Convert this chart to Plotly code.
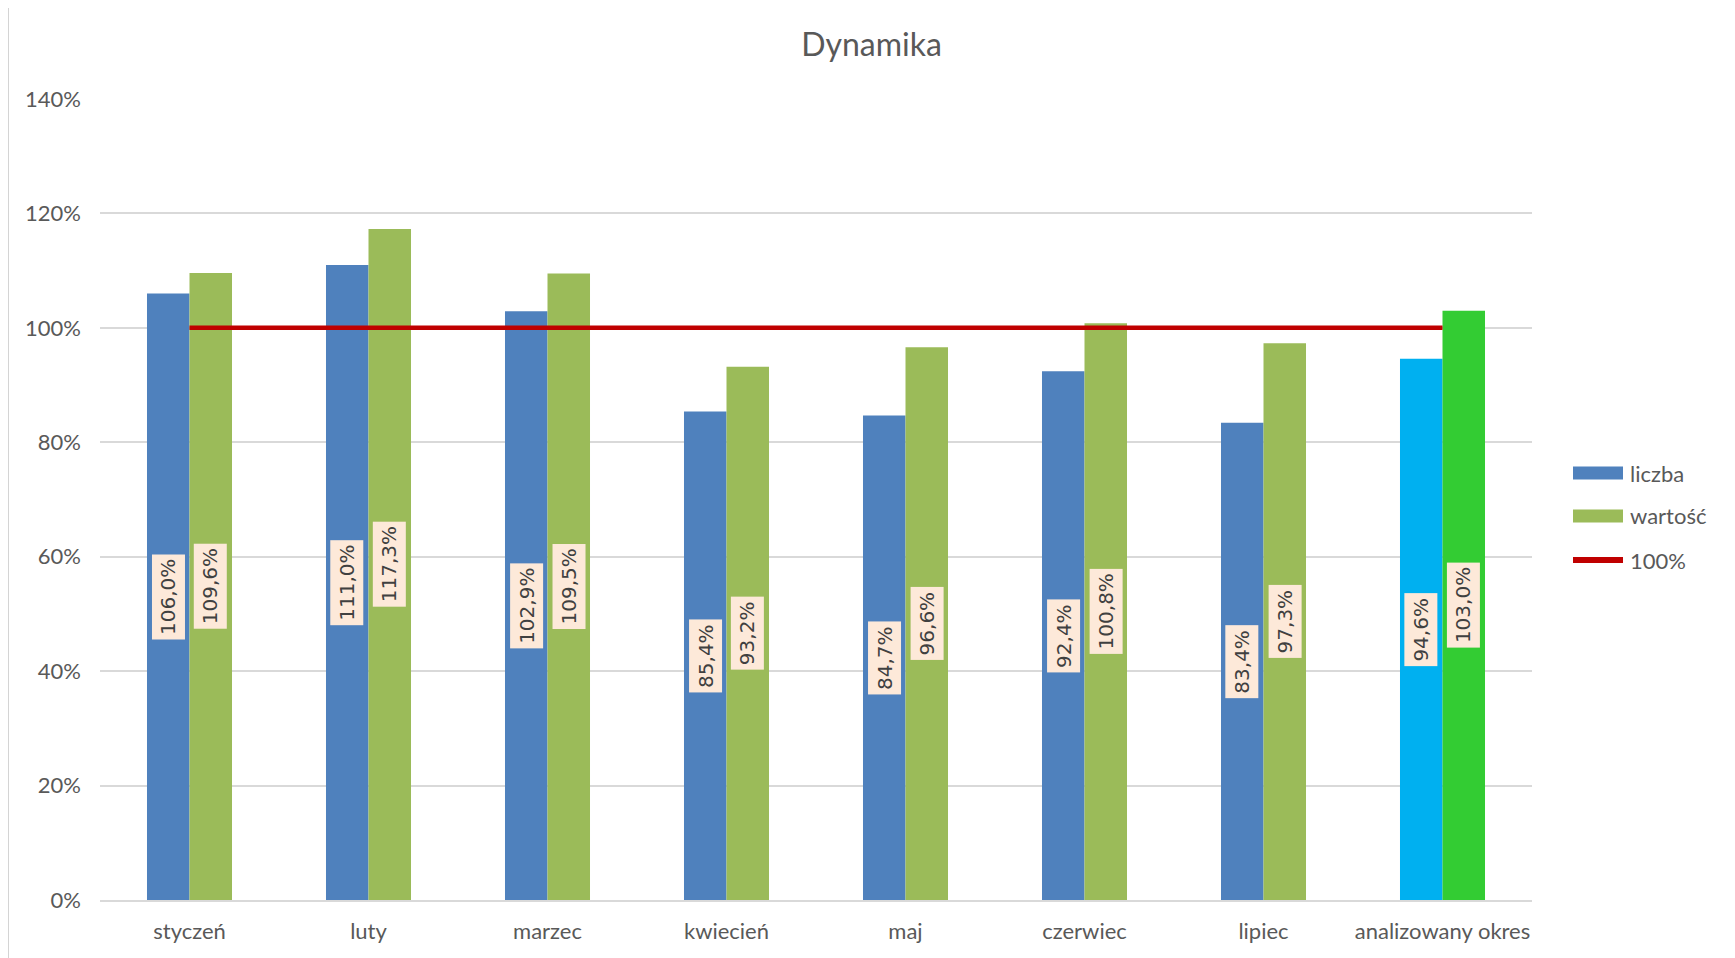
import plotly.graph_objects as go

categories = ["styczeń", "luty", "marzec", "kwiecień", "maj", "czerwiec", "lipiec", "analizowany okres"]
liczba = [106.0, 111.0, 102.9, 85.4, 84.7, 92.4, 83.4, 94.6]
wartosc = [109.6, 117.3, 109.5, 93.2, 96.6, 100.8, 97.3, 103.0]
ref_line = [100, 100, 100, 100, 100, 100, 100, 100]
tick_vals = [0, 20, 40, 60, 80, 100, 120, 140]
tick_text = ["0%", "20%", "40%", "60%", "80%", "100%", "120%", "140%"]
legend_names = ["liczba", "wartość", "100%"]

blue_colors = ["#4f81bd"] * 7 + ["#00b0f0"]
green_colors = ["#9bbb59"] * 7 + ["#33cc33"]

O = 8  # page body margin offset
W, H = 1735 - O, 958 - O
L, R, T, B = 100 - O, 1532 - O, 99 - O, 900 - O

fig = go.Figure()
fig.add_trace(go.Bar(name=legend_names[0], x=categories, y=liczba, marker=dict(color=blue_colors, line=dict(width=0))))
fig.add_trace(go.Bar(name=legend_names[1], x=categories, y=wartosc, marker=dict(color=green_colors, line=dict(width=0))))
fig.add_trace(go.Scatter(name=legend_names[2], x=categories, y=ref_line, mode="lines",
                         line=dict(color="#c00000", width=4.5)))

def fmt(v):
    return f"{v:.1f}%".replace(".", ",")

pw = R - L
ph = B - T
def px(x):
    return (x - O - L) / pw
def py(y):
    return (B - (y - O)) / ph

bw = 0.475 / 2
ann = []
for i, (a, b) in enumerate(zip(liczba, wartosc)):
    for v, off in ((a, -bw / 2), (b, bw / 2)):
        ann.append(dict(x=i + off, y=v / 2, xref="x", yref="y", text=fmt(v), textangle=-90,
                        showarrow=False, bgcolor="#fde9d9", borderpad=4,
                        font=dict(family="DejaVu Sans", size=20, color="#404040")))

# manual legend
shapes = [dict(type="rect", xref="paper", yref="paper", layer="below",
               x0=px(8), x1=px(1730), y0=py(1000), y1=py(2),
               fillcolor="white", line=dict(color="#d4d4d4", width=2))]
leg_y = [473, 516, 560]
shapes.append(dict(type="rect", xref="paper", yref="paper", x0=px(1573), x1=px(1623),
                   y0=py(leg_y[0] + 6.5), y1=py(leg_y[0] - 6.5), fillcolor="#4f81bd", line=dict(width=0)))
shapes.append(dict(type="rect", xref="paper", yref="paper", x0=px(1573), x1=px(1623),
                   y0=py(leg_y[1] + 6.5), y1=py(leg_y[1] - 6.5), fillcolor="#9bbb59", line=dict(width=0)))
shapes.append(dict(type="line", xref="paper", yref="paper", x0=px(1573), x1=px(1623),
                   y0=py(leg_y[2]), y1=py(leg_y[2]), line=dict(color="#c00000", width=6)))
for name, yy in zip(legend_names, leg_y):
    ann.append(dict(x=px(1628), y=py(yy), xref="paper", yref="paper", text=name, showarrow=False,
                    xanchor="left", yanchor="middle", font=dict(family="Lato", size=22, color="#595959")))

fig.update_layout(
    width=W, height=H,
    margin=dict(l=L, r=W - R, t=T, b=H - B, autoexpand=False),
    paper_bgcolor="#e6eeec",
    plot_bgcolor="rgba(0,0,0,0)",
    barmode="group",
    bargap=0.525,
    bargroupgap=0,
    showlegend=False,
    title=dict(text="Dynamika", x=0.5, xanchor="center", y=1 - (45 - O) / H, yanchor="middle",
               font=dict(family="Lato", size=32, color="#595959")),
    font=dict(family="Lato", size=22, color="#595959"),
    xaxis=dict(showgrid=False, showline=True, linecolor="#d9d9d9", linewidth=2, ticks="",
               ticklabelstandoff=11, tickfont=dict(size=22, color="#595959"), fixedrange=True),
    yaxis=dict(range=[0, 140], tickmode="array", tickvals=tick_vals, ticktext=tick_text,
               showgrid=True, gridcolor="#d9d9d9",
               gridwidth=1.5, zeroline=False, showline=False, ticks="", ticklabelstandoff=18,
               tickfont=dict(size=22, color="#595959")),
    annotations=ann,
    shapes=shapes,
)

fig.write_html("out.html")
